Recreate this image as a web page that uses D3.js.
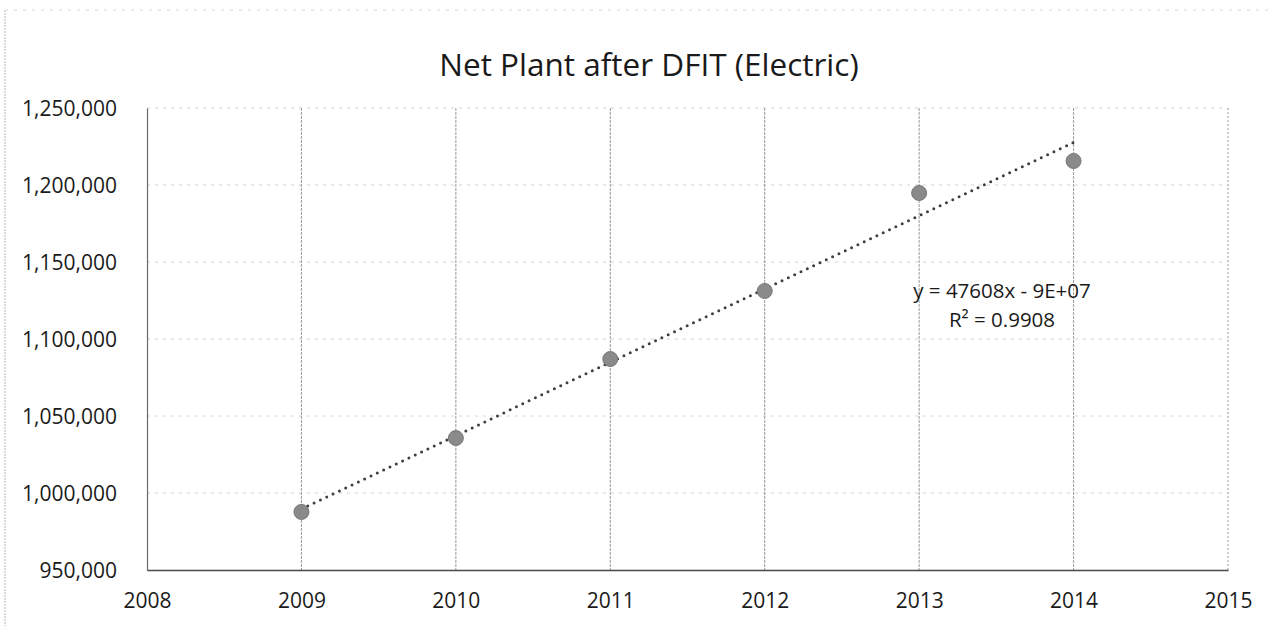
<!DOCTYPE html>
<html>
<head>
<meta charset="utf-8">
<script src="https://cdn.jsdelivr.net/npm/d3@7"></script>
<style>
  html, body { margin: 0; padding: 0; background: #fff; }
  svg { display: block; }
  text { font-family: "Open Sans", "Liberation Sans", sans-serif; fill: #1a1a1a; }
</style>
</head>
<body>
<svg id="chart" width="1271" height="626"></svg>
<script>
// Net plant after DFIT (electric), by year
const years = [2009, 2010, 2011, 2012, 2013, 2014];
const netPlant = [987700, 1035700, 1087000, 1131200, 1194800, 1215600];

// Axis ticks
const xTicks = [2008, 2009, 2010, 2011, 2012, 2013, 2014, 2015];
const yTicks = [950000, 1000000, 1050000, 1100000, 1150000, 1200000, 1250000];

// Linear trendline, as reported on the chart
const trendSlope = 47608;
const trendLabel = ["y = 47608x - 9E+07", "R\u00B2 = 0.9908"];

const titleText = "Net Plant after DFIT (Electric)";

const svg = d3.select("#chart");
const W = 1271, H = 626;
const plot = { left: 147, right: 1228, top: 108, bottom: 570 };

const x = d3.scaleLinear().domain([2008, 2015]).range([plot.left, plot.right]);
const y = d3.scaleLinear().domain([950000, 1250000]).range([plot.bottom, plot.top]);

// Outer chart frame (left and top edges)
svg.append("line")
  .attr("x1", 5).attr("x2", 5).attr("y1", 10).attr("y2", H)
  .attr("stroke", "#b8b8b8").attr("stroke-width", 1).attr("stroke-dasharray", "2 1");
svg.append("line")
  .attr("x1", 5).attr("x2", W).attr("y1", 10).attr("y2", 10)
  .attr("stroke", "#d6d6d6").attr("stroke-width", 1).attr("stroke-dasharray", "3 6");

// Title
svg.append("text")
  .attr("x", 649).attr("y", 76)
  .attr("text-anchor", "middle")
  .style("font-size", "31.5px")
  .text(titleText);

// Horizontal gridlines
svg.append("g")
  .selectAll("line")
  .data(yTicks.filter(d => d !== 950000))
  .join("line")
  .attr("x1", plot.left).attr("x2", plot.right)
  .attr("y1", d => y(d)).attr("y2", d => y(d))
  .attr("stroke", "#d2d2d2").attr("stroke-width", 1)
  .attr("stroke-dasharray", "3 5");

// Vertical gridlines
svg.append("g")
  .selectAll("line")
  .data(xTicks.filter(d => d !== 2008))
  .join("line")
  .attr("x1", d => x(d)).attr("x2", d => x(d))
  .attr("y1", plot.top).attr("y2", plot.bottom)
  .attr("stroke", "#9a9a9a").attr("stroke-width", 1)
  .attr("stroke-dasharray", d => d === 2015 ? "2 2" : "3 1");

// Axes
const yAxis = d3.axisLeft(y)
  .tickValues(yTicks)
  .tickSize(0)
  .tickPadding(30)
  .tickFormat(d3.format(",d"));
const gy = svg.append("g")
  .attr("transform", `translate(${plot.left},0)`)
  .call(yAxis);
gy.select(".domain").attr("stroke", "#6a6a6a").attr("stroke-width", 1.2);
gy.selectAll("text").style("font-size", "21px").attr("fill", "#1a1a1a").attr("dy", "0.35em");

const xAxis = d3.axisBottom(x)
  .tickValues(xTicks)
  .tickSize(0)
  .tickPadding(23)
  .tickFormat(d3.format("d"));
const gx = svg.append("g")
  .attr("transform", `translate(0,${plot.bottom})`)
  .call(xAxis);
gx.select(".domain").attr("stroke", "#4a4a4a").attr("stroke-width", 1.4);
gx.selectAll("text").style("font-size", "21px").attr("fill", "#1a1a1a");

// Trendline through the mean point with the reported slope
const xMean = d3.mean(years);
const yMean = d3.mean(netPlant);
const trend = yr => yMean + trendSlope * (yr - xMean);
const x0 = d3.min(years), x1 = d3.max(years);
svg.append("line")
  .attr("x1", x(x0)).attr("y1", y(trend(x0)))
  .attr("x2", x(x1)).attr("y2", y(trend(x1)))
  .attr("stroke", "#3f3f3f")
  .attr("stroke-width", 3)
  .attr("stroke-linecap", "round")
  .attr("stroke-dasharray", "0 7");

// Data points
svg.append("g")
  .selectAll("circle")
  .data(years.map((yr, i) => ({ yr, v: netPlant[i] })))
  .join("circle")
  .attr("cx", d => x(d.yr))
  .attr("cy", d => y(d.v))
  .attr("r", 7.5)
  .attr("fill", "#8a8a8a")
  .attr("stroke", "#777")
  .attr("stroke-width", 1);

// Trendline equation
const eq = svg.append("text")
  .attr("text-anchor", "middle")
  .style("font-size", "20.5px");
eq.selectAll("tspan")
  .data(trendLabel)
  .join("tspan")
  .attr("x", 1002)
  .attr("y", (d, i) => 298 + i * 29)
  .text(d => d);
</script>
</body>
</html>
